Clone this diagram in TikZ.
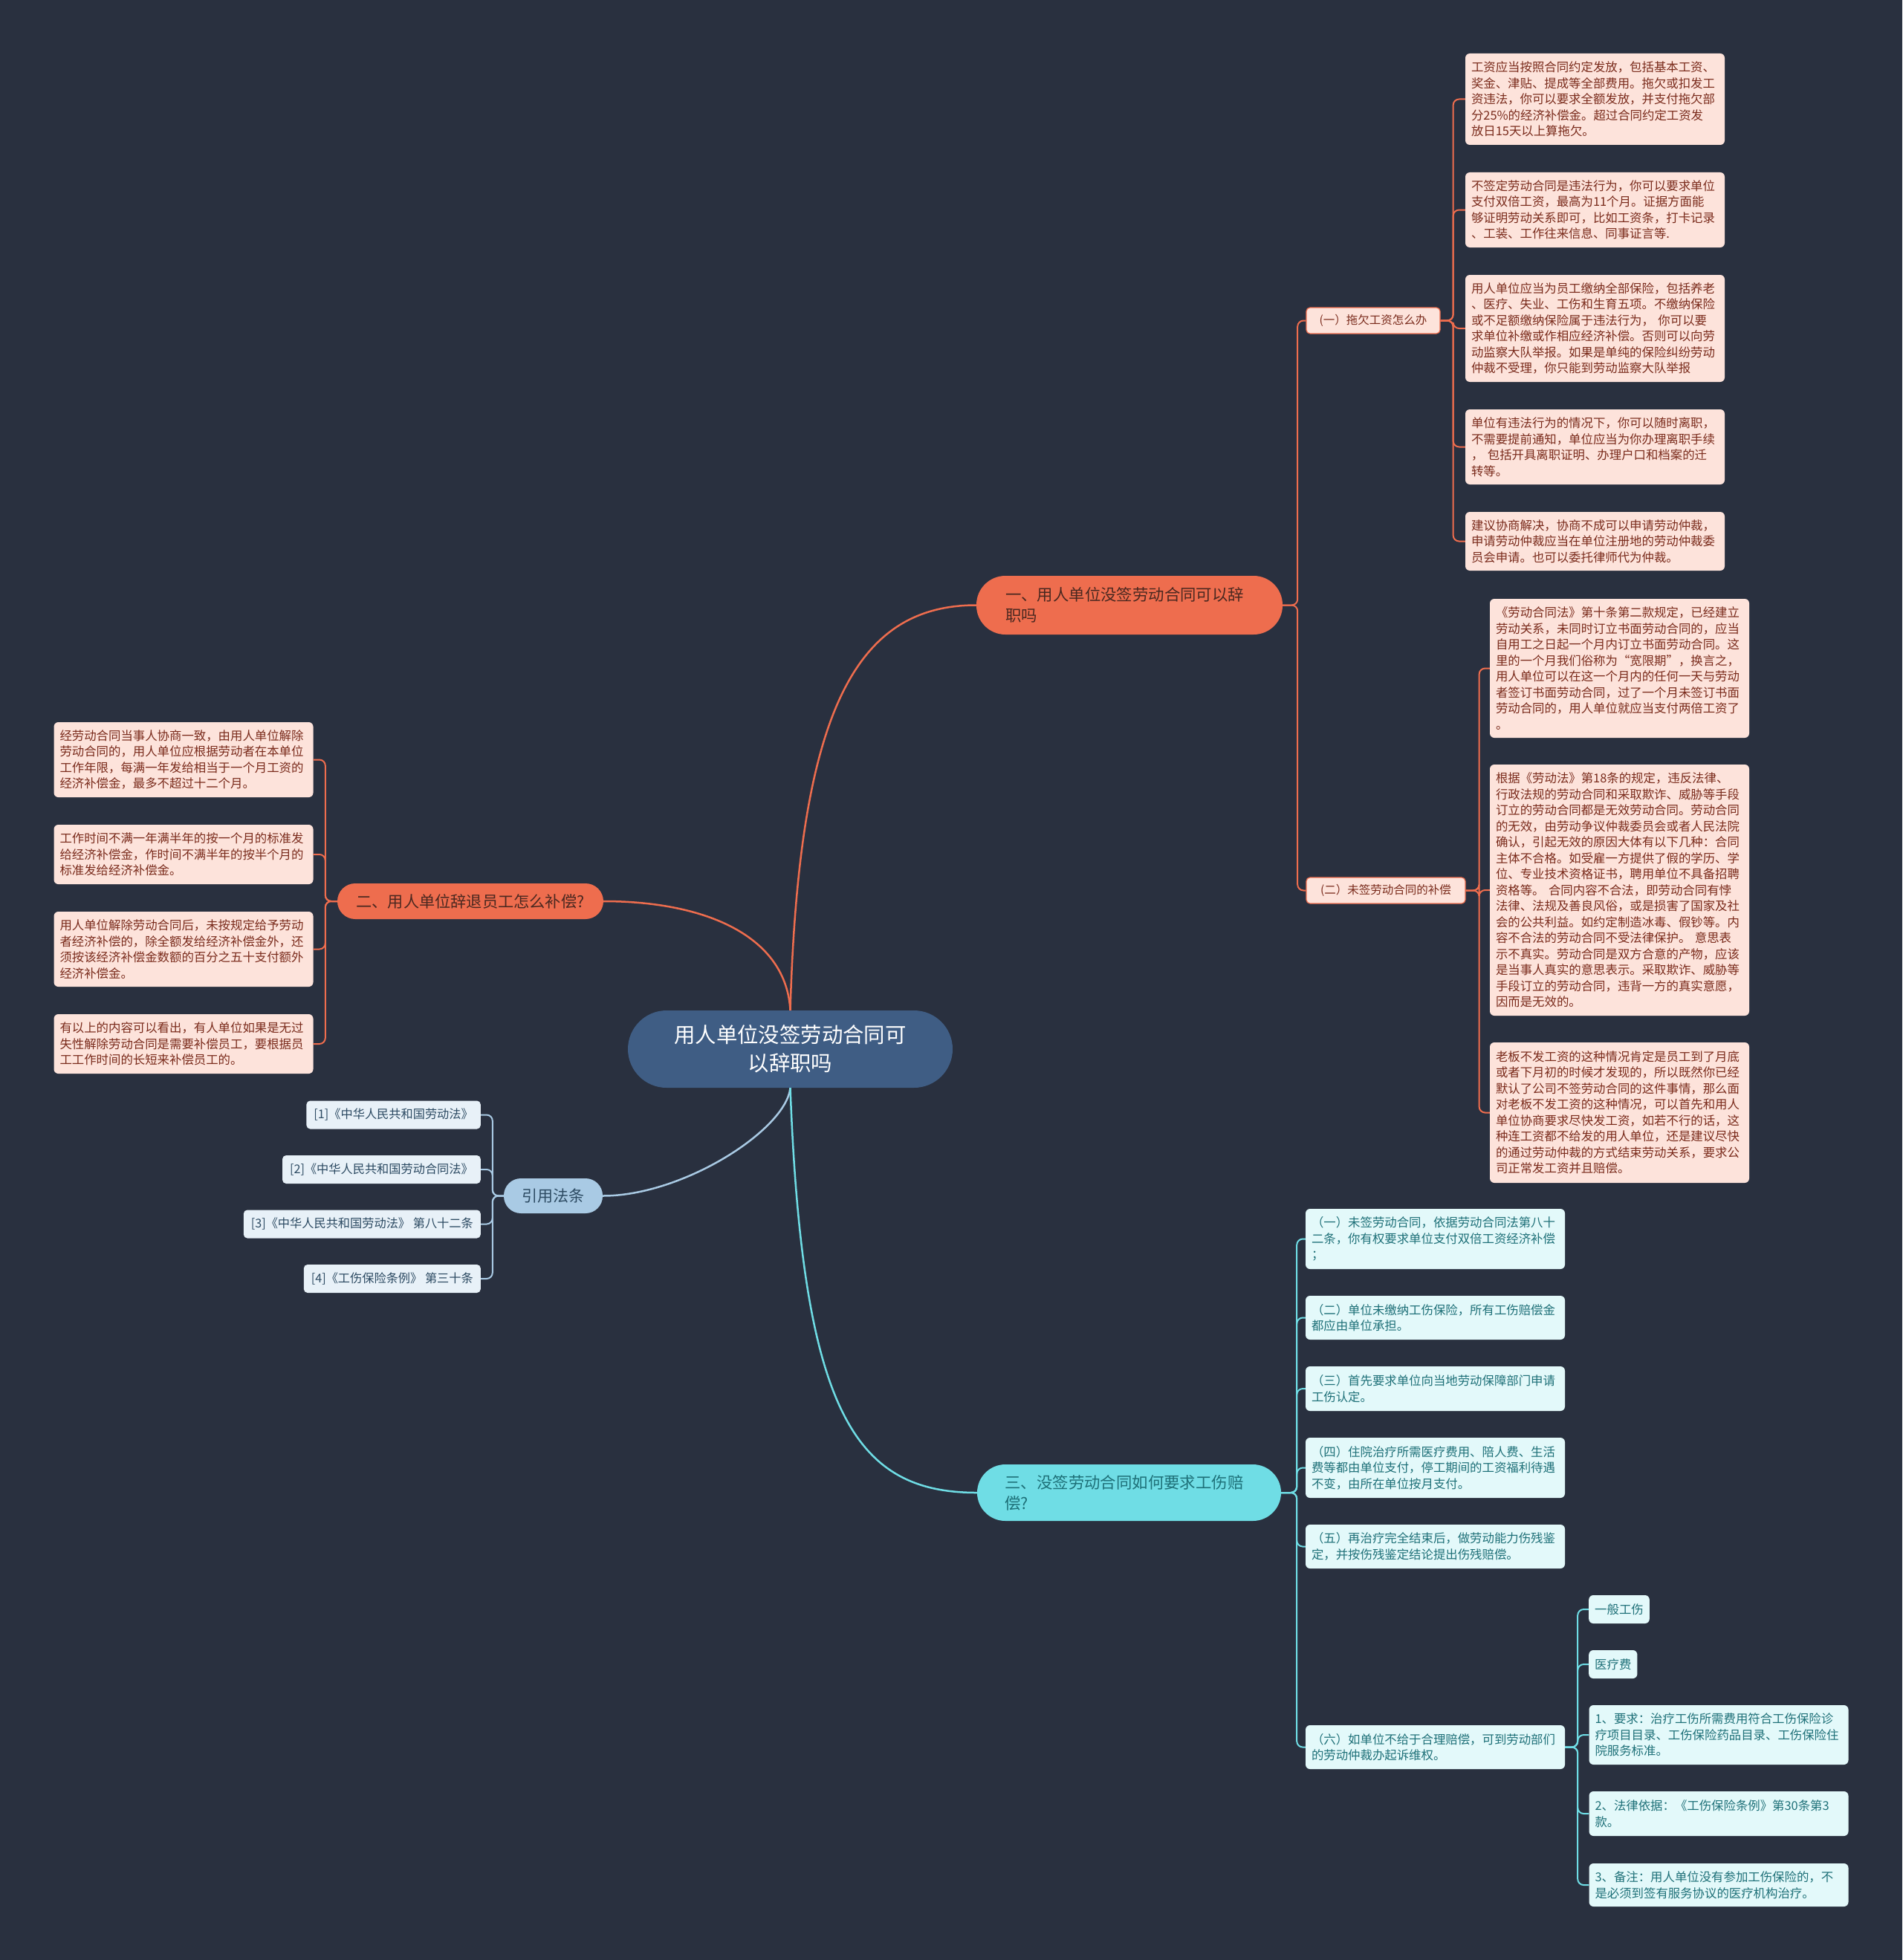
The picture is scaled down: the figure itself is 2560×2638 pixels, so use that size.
\documentclass[tikz,border=0pt]{standalone}
\usepackage{fontspec}
\setmainfont{Noto Sans CJK SC}
\definecolor{bg}{HTML}{29303F}
\definecolor{orng}{HTML}{EE6D4E}
\definecolor{pinkfill}{HTML}{FDE3DB}
\definecolor{pinktext}{HTML}{7A2B1C}
\definecolor{cyanc}{HTML}{6FDDE5}
\definecolor{cyanfill}{HTML}{E3F9FA}
\definecolor{cyantext}{HTML}{1E7078}
\definecolor{lblue}{HTML}{A9CAE4}
\definecolor{lbluefill}{HTML}{E8F1F8}
\definecolor{lbluetext}{HTML}{2C4A62}
\definecolor{centralc}{HTML}{3F5D84}
\definecolor{darktext}{HTML}{4A2820}
\begin{document}
\begin{tikzpicture}[x=1pt,y=-1pt,
  leafbase/.style={rectangle, rounded corners=6pt, inner xsep=8pt, inner ysep=0pt, align=left, font=\fontsize{16.4}{21.5}\selectfont},
  pinkleaf/.style={leafbase, fill=pinkfill, text=pinktext, text width=333pt, minimum width=349pt},
  cyanleaf/.style={leafbase, fill=cyanfill, text=cyantext, text width=333pt, minimum width=349pt},
  smallcyan/.style={leafbase, fill=cyanfill, text=cyantext, anchor=west},
  bh/.style={minimum height=#1},
  citebox/.style={rectangle, rounded corners=5pt, fill=lbluefill, text=lbluetext, inner xsep=10pt, inner ysep=0pt, minimum height=38, font=\fontsize{16.2}{19}\selectfont, anchor=east},
  subpink/.style={rectangle, rounded corners=5pt, fill=pinkfill, draw=orng, line width=1.2pt, text=pinktext, inner xsep=6pt, inner ysep=0pt, minimum height=35, font=\fontsize{15.5}{18}\selectfont},
  pill/.style={rectangle, rounded corners=#1, inner ysep=0pt},
  obr/.style={draw=orng, line width=2pt, rounded corners=8pt},
  cbr/.style={draw=cyanc, line width=2pt, rounded corners=8pt},
  bbr/.style={draw=lblue, line width=2pt, rounded corners=8pt},
  maincurve/.style={line width=2.5pt}
]
\fill[bg] (0,0) rectangle (2560,2638);
\useasboundingbox (0,0) rectangle (2560,2638);

% central
\node[pill=52pt, fill=centralc, text=white, minimum width=437, minimum height=104, align=center, font=\fontsize{28.4}{38}\selectfont] (C) at (1063.5,1412) {用人单位没签劳动合同可\\以辞职吗};

% branches
\node[pill=39pt, fill=orng, text=darktext, minimum width=412, minimum height=79, text width=334pt, inner xsep=39pt, align=left, font=\fontsize{21.4}{28}\selectfont] (B1) at (1520,814.5) {一、用人单位没签劳动合同可以辞\\职吗};
\node[pill=24pt, fill=orng, text=darktext, minimum width=358, minimum height=48, inner xsep=25pt, font=\fontsize{21.2}{26}\selectfont] (B2) at (633,1213) {二、用人单位辞退员工怎么补偿?};
\node[pill=23pt, fill=lblue, text=lbluetext, minimum width=133, minimum height=47, inner xsep=24pt, font=\fontsize{21}{26}\selectfont] (B3) at (744.5,1609.5) {引用法条};
\node[pill=38pt, fill=cyanc, text=cyantext, minimum width=409, minimum height=76, text width=334pt, inner xsep=37pt, align=left, font=\fontsize{21.4}{28}\selectfont] (B4) at (1519.5,2009) {三、没签劳动合同如何要求工伤赔\\偿?};

% main curves
\draw[maincurve, orng] (C.north) .. controls (1075,960) and (1150,814.5) .. (B1.west);
\draw[maincurve, orng] (C.north) .. controls (1058,1260) and (950,1213) .. (B2.east);
\draw[maincurve, lblue] (C.south) .. controls (1058,1520) and (920,1609.5) .. (B3.east);
\draw[maincurve, cyanc] (C.south) .. controls (1080,1900) and (1150,2009) .. (B4.west);

% sub nodes of branch 1
\node[subpink, minimum width=180] (S1) at (1848,431.5) {(一）拖欠工资怎么办};
\node[subpink, minimum width=214] (S2) at (1865,1198.5) {(二）未签劳动合同的补偿};

% leaves of S1
\node[pinkleaf, bh=123] (L1) at (2146.5,133.5) {工资应当按照合同约定发放，包括基本工资、\\奖金、津贴、提成等全部费用。拖欠或扣发工\\资违法，你可以要求全额发放，并支付拖欠部\\分25\%的经济补偿金。超过合同约定工资发\\放日15天以上算拖欠。};
\node[pinkleaf, bh=101] (L2) at (2146.5,282.5) {不签定劳动合同是违法行为，你可以要求单位\\支付双倍工资，最高为11个月。证据方面能\\够证明劳动关系即可，比如工资条，打卡记录\\、工装、工作往来信息、同事证言等.};
\node[pinkleaf, bh=144] (L3) at (2146.5,442) {用人单位应当为员工缴纳全部保险，包括养老\\、医疗、失业、工伤和生育五项。不缴纳保险\\或不足额缴纳保险属于违法行为， 你可以要\\求单位补缴或作相应经济补偿。否则可以向劳\\动监察大队举报。如果是单纯的保险纠纷劳动\\仲裁不受理，你只能到劳动监察大队举报};
\node[pinkleaf, bh=101] (L4) at (2146.5,601.5) {单位有违法行为的情况下，你可以随时离职，\\不需要提前通知，单位应当为你办理离职手续\\， 包括开具离职证明、办理户口和档案的迁\\转等。};
\node[pinkleaf, bh=79] (L5) at (2146.5,728.5) {建议协商解决，协商不成可以申请劳动仲裁，\\申请劳动仲裁应当在单位注册地的劳动仲裁委\\员会申请。也可以委托律师代为仲裁。};

% leaves of S2
\node[pinkleaf, bh=187] (M1) at (2179.5,899.5) {《劳动合同法》第十条第二款规定，已经建立\\劳动关系，未同时订立书面劳动合同的，应当\\自用工之日起一个月内订立书面劳动合同。这\\里的一个月我们俗称为“宽限期”，换言之，\\用人单位可以在这一个月内的任何一天与劳动\\者签订书面劳动合同，过了一个月未签订书面\\劳动合同的，用人单位就应当支付两倍工资了\\。};
\node[pinkleaf, bh=338] (M2) at (2179.5,1198) {根据《劳动法》第18条的规定，违反法律、\\行政法规的劳动合同和采取欺诈、威胁等手段\\订立的劳动合同都是无效劳动合同。劳动合同\\的无效，由劳动争议仲裁委员会或者人民法院\\确认，引起无效的原因大体有以下几种：合同\\主体不合格。如受雇一方提供了假的学历、学\\位、专业技术资格证书，聘用单位不具备招聘\\资格等。 合同内容不合法，即劳动合同有悖\\法律、法规及善良风俗，或是损害了国家及社\\会的公共利益。如约定制造冰毒、假钞等。内\\容不合法的劳动合同不受法律保护。 意思表\\示不真实。劳动合同是双方合意的产物，应该\\是当事人真实的意思表示。采取欺诈、威胁等\\手段订立的劳动合同，违背一方的真实意愿，\\因而是无效的。};
\node[pinkleaf, bh=189] (M3) at (2179.5,1497.5) {老板不发工资的这种情况肯定是员工到了月底\\或者下月初的时候才发现的，所以既然你已经\\默认了公司不签劳动合同的这件事情，那么面\\对老板不发工资的这种情况，可以首先和用人\\单位协商要求尽快发工资，如若不行的话，这\\种连工资都不给发的用人单位，还是建议尽快\\的通过劳动仲裁的方式结束劳动关系，要求公\\司正常发工资并且赔偿。};

% leaves of B2
\node[pinkleaf, bh=101] (N1) at (247,1022.5) {经劳动合同当事人协商一致，由用人单位解除\\劳动合同的，用人单位应根据劳动者在本单位\\工作年限，每满一年发给相当于一个月工资的\\经济补偿金，最多不超过十二个月。};
\node[pinkleaf, bh=80] (N2) at (247,1150) {工作时间不满一年满半年的按一个月的标准发\\给经济补偿金，作时间不满半年的按半个月的\\标准发给经济补偿金。};
\node[pinkleaf, bh=101] (N3) at (247,1277.5) {用人单位解除劳动合同后，未按规定给予劳动\\者经济补偿的，除全额发给经济补偿金外，还\\须按该经济补偿金数额的百分之五十支付额外\\经济补偿金。};
\node[pinkleaf, bh=80] (N4) at (247,1405) {有以上的内容可以看出，有人单位如果是无过\\失性解除劳动合同是需要补偿员工，要根据员\\工工作时间的长短来补偿员工的。};

% citations
\node[citebox] (Q1) at (647,1500.5) {[1]《中华人民共和国劳动法》};
\node[citebox] (Q2) at (647,1574) {[2]《中华人民共和国劳动合同法》};
\node[citebox] (Q3) at (647,1647.5) {[3]《中华人民共和国劳动法》 第八十二条};
\node[citebox] (Q4) at (647,1721) {[4]《工伤保险条例》 第三十条};

% cyan leaves
\node[cyanleaf, bh=81] (C1) at (1931.5,1667.5) {（一）未签劳动合同，依据劳动合同法第八十\\二条，你有权要求单位支付双倍工资经济补偿\\；};
\node[cyanleaf, bh=59] (C2) at (1931.5,1773.5) {（二）单位未缴纳工伤保险，所有工伤赔偿金\\都应由单位承担。};
\node[cyanleaf, bh=60] (C3) at (1931.5,1869) {（三）首先要求单位向当地劳动保障部门申请\\工伤认定。};
\node[cyanleaf, bh=81] (C4) at (1931.5,1975.5) {（四）住院治疗所需医疗费用、陪人费、生活\\费等都由单位支付，停工期间的工资福利待遇\\不变，由所在单位按月支付。};
\node[cyanleaf, bh=59] (C5) at (1931.5,2081.5) {（五）再治疗完全结束后，做劳动能力伤残鉴\\定，并按伤残鉴定结论提出伤残赔偿。};
\node[cyanleaf, bh=59] (C6) at (1931.5,2351.5) {（六）如单位不给于合理赔偿，可到劳动部们\\的劳动仲裁办起诉维权。};

\node[smallcyan, bh=38] (D1) at (2138,2166) {一般工伤};
\node[smallcyan, bh=38] (D2) at (2138,2240) {医疗费};
\node[cyanleaf, bh=80] (D3) at (2313,2335) {1、要求：治疗工伤所需费用符合工伤保险诊\\疗项目目录、工伤保险药品目录、工伤保险住\\院服务标准。};
\node[cyanleaf, bh=60] (D4) at (2313,2441) {2、法律依据：《工伤保险条例》第30条第3\\款。};
\node[cyanleaf, bh=58] (D5) at (2313,2537) {3、备注：用人单位没有参加工伤保险的，不\\是必须到签有服务协议的医疗机构治疗。};

% brackets
\foreach \n in {S1,S2} \draw[obr] (B1.east) -- ++(20,0) |- (\n.west);
\foreach \n in {L1,L2,L3,L4,L5} \draw[obr] (S1.east) -- ++(17,0) |- (\n.west);
\foreach \n in {M1,M2,M3} \draw[obr] (S2.east) -- ++(18,0) |- (\n.west);
\foreach \n in {N1,N2,N3,N4} \draw[obr] (B2.west) -- ++(-16,0) |- (\n.east);
\foreach \n in {Q1,Q2,Q3,Q4} \draw[bbr] (B3.west) -- ++(-15,0) |- (\n.east);
\foreach \n in {C1,C2,C3,C4,C5,C6} \draw[cbr] (B4.east) -- ++(21,0) |- (\n.west);
\foreach \n in {D1,D2,D3,D4,D5} \draw[cbr] (C6.east) -- ++(17,0) |- (\n.west);
\end{tikzpicture}
\end{document}
